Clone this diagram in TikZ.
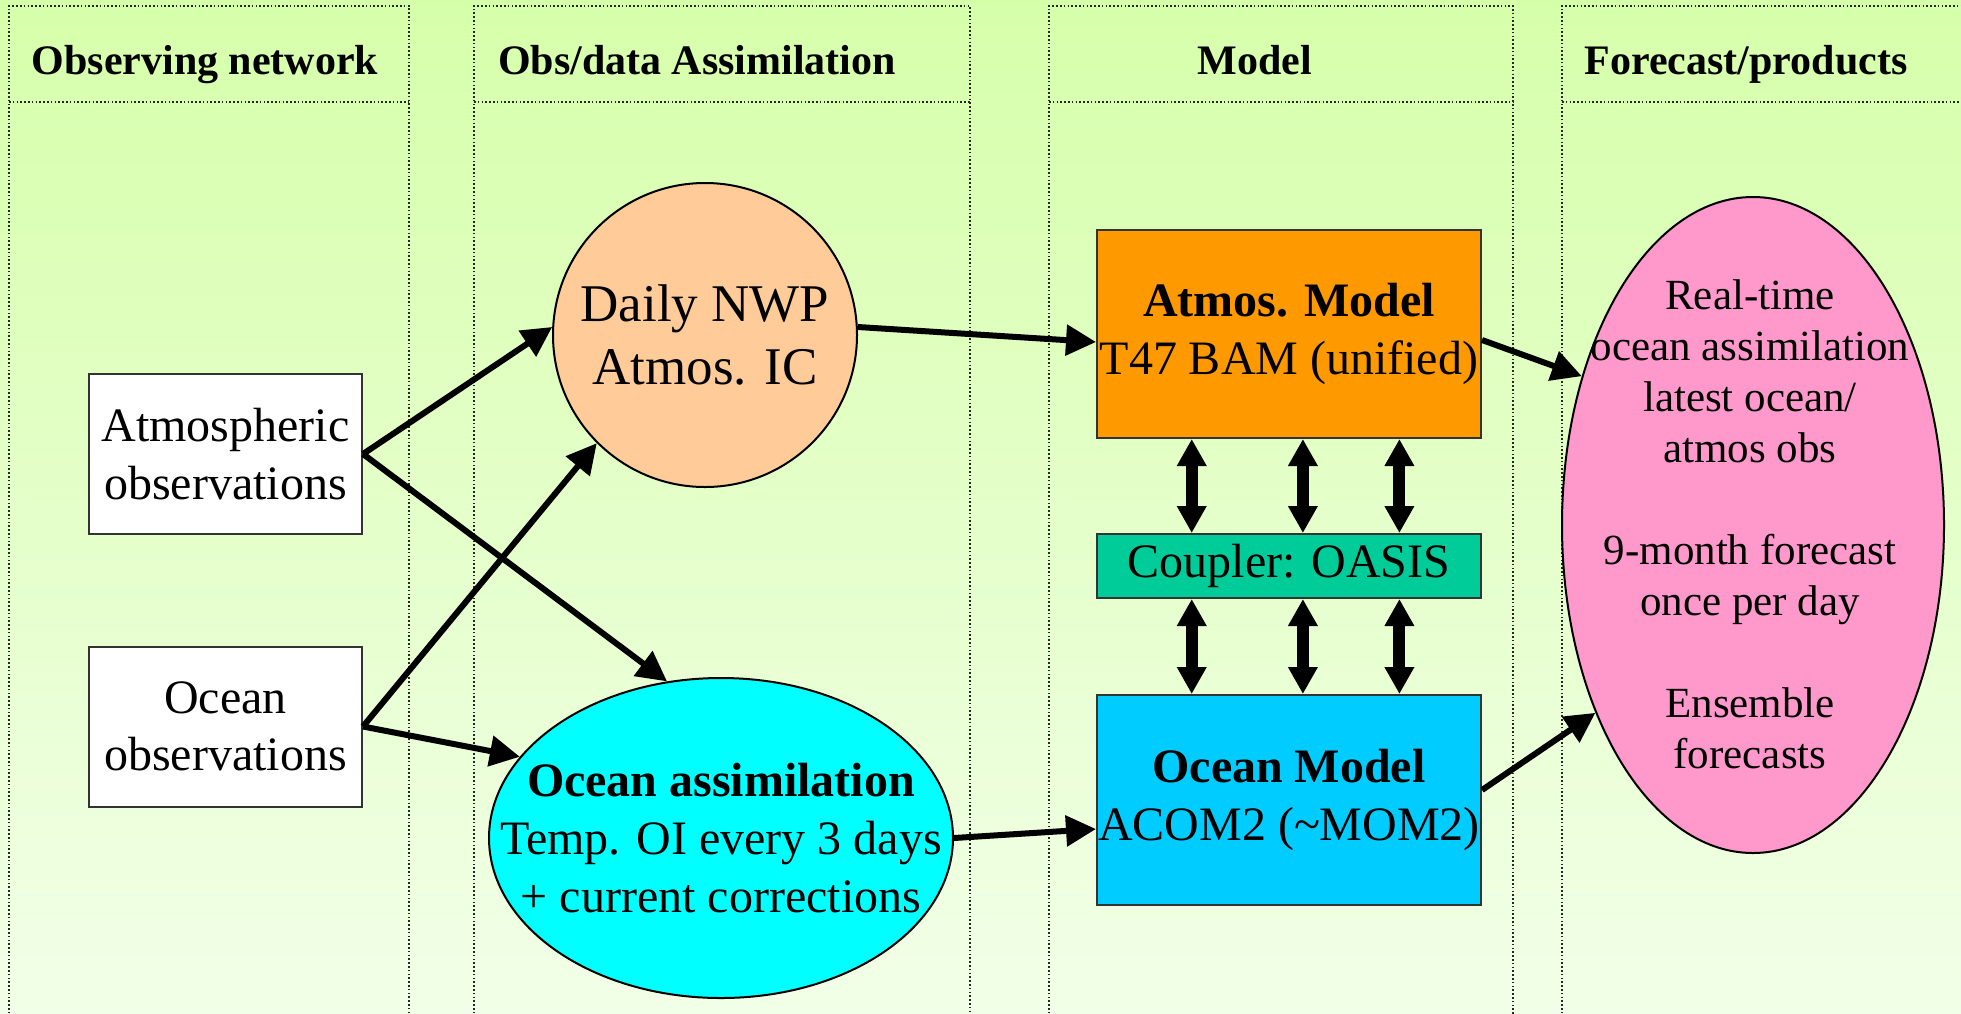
\documentclass[tikz,border=0pt]{standalone}
\usepackage{fontspec}
\setmainfont{Liberation Serif}
\usetikzlibrary{arrows.meta,shapes.geometric,calc}

\definecolor{bgtop}{HTML}{D6FFAA}
\definecolor{bgbot}{HTML}{F2FFE8}
\definecolor{peach}{HTML}{FFCC99}
\definecolor{assimcyan}{HTML}{00FFFF}
\definecolor{atmorange}{HTML}{FF9900}
\definecolor{couplergreen}{HTML}{00CC99}
\definecolor{oceanblue}{HTML}{00CCFF}
\definecolor{fcstpink}{HTML}{FF99CC}

\tikzset{
  colframe/.style={draw=black!85, line width=1.6pt, dash pattern=on 1.6pt off 2.2pt},
  hdrtext/.style={font=\fontsize{42}{50}\selectfont\bfseries, anchor=base},
  body/.style={font=\fontsize{48}{57.6}\selectfont, align=center},
  obsbox/.style={body, draw=black!80, line width=2pt, fill=white,
    minimum width=273pt, minimum height=160pt, inner sep=0pt},
  modelbox/.style={body, draw=black!80, line width=2pt,
    minimum width=384pt, inner sep=0pt},
  flow/.style={line width=6pt, -{Triangle[length=30pt, width=30pt]}},
  dbl/.style={line width=12pt,
    {Triangle[length=27pt, width=28pt]}-{Triangle[length=27pt, width=28pt]}}
}

\begin{document}
\begin{tikzpicture}[x=1pt, y=-1pt]
  \useasboundingbox (0,0) rectangle (1961,1013);
  \clip (0,0) rectangle (1961,1013);

  % pozadi
  \shade[top color=bgtop, bottom color=bgbot] (0,0) rectangle (1961,1013);

  % sloupce
  \foreach \l/\r in {9/409, 474/970, 1049/1513, 1562/1975}{
    \draw[colframe] (\l,1040) -- (\l,6) -- (\r,6) -- (\r,1040);
    \draw[colframe] (\l,102) -- (\r,102);
  }

  \node[hdrtext] (hobs) at (205,74) {Observing network};
  \node[hdrtext] (hassim) at (697,74) {Obs/data Assimilation};
  \node[hdrtext] (hmodel) at (1255,74) {Model};
  \node[hdrtext] (hfcst) at (1746,74) {Forecast/products};

  % pozorovani
  \node[obsbox] (atmobs) at (225.5,454) {Atmospheric\\observations};
  \node[obsbox] (ocnobs) at (225.5,726.5) {Ocean\\observations};

  % asimilace
  \node[circle, draw, line width=2pt, fill=peach, minimum size=304pt, inner sep=0pt,
    font=\fontsize{53}{63}\selectfont, align=center] (nwp) at (705,335) {Daily NWP\\Atmos. IC};
  \node[ellipse, draw, line width=2pt, fill=assimcyan, minimum width=464pt,
    minimum height=320pt] (ocnassim) at (721,838) {};
  \node[body] (ocnassimtxt) at (ocnassim)
    {\textbf{Ocean assimilation}\\Temp. OI every 3 days\\+ current corrections};

  % model
  \node[modelbox, fill=atmorange, minimum height=208pt] (atmod) at (1289,334)
    {\textbf{Atmos. Model}\\T47 BAM (unified)};
  \node[modelbox, fill=couplergreen, minimum height=64pt] (coupler) at (1289,566)
    {Coupler: OASIS};
  \node[modelbox, fill=oceanblue, minimum height=210pt] (ocnmod) at (1289,800)
    {\textbf{Ocean Model}\\ACOM2 (\textasciitilde MOM2)};

  % predpoved
  \node[ellipse, draw, line width=2pt, fill=fcstpink, minimum width=382pt,
    minimum height=656pt] (fcst) at (1753,525) {};
  \node[font=\fontsize{43}{51}\selectfont, align=center] (fcsttxt) at (1750,524)
    {Real-time\\ocean assimilation\\latest ocean/\\atmos obs\\[51pt]
     9-month forecast\\once per day\\[51pt]Ensemble\\forecasts};

  % sipky
  \draw[flow] (atmobs.east) -- (nwp.177);
  \draw[flow] (atmobs.east) -- (ocnassim.109);
  \draw[flow] (ocnobs.east) -- (nwp.225);
  \draw[flow] (ocnobs.east) -- (ocnassim.158);
  \draw[flow] (nwp.3) -- ([yshift=-8pt]atmod.west);
  \draw[flow] (ocnassim.east) -- ([yshift=-29pt]ocnmod.west);
  \draw[flow] ([yshift=-6pt]atmod.east) -- (fcst.139);
  \draw[flow] ([yshift=10pt]ocnmod.east) -- (fcst.230);

  % vazby pres coupler
  \foreach \f in {0.248,0.536,0.786}{
    \draw[dbl] ($(atmod.south west)!\f!(atmod.south east)$)
      -- ($(coupler.north west)!\f!(coupler.north east)$);
    \draw[dbl] ($(coupler.south west)!\f!(coupler.south east)$)
      -- ($(ocnmod.north west)!\f!(ocnmod.north east)$);
  }
\end{tikzpicture}
\end{document}
